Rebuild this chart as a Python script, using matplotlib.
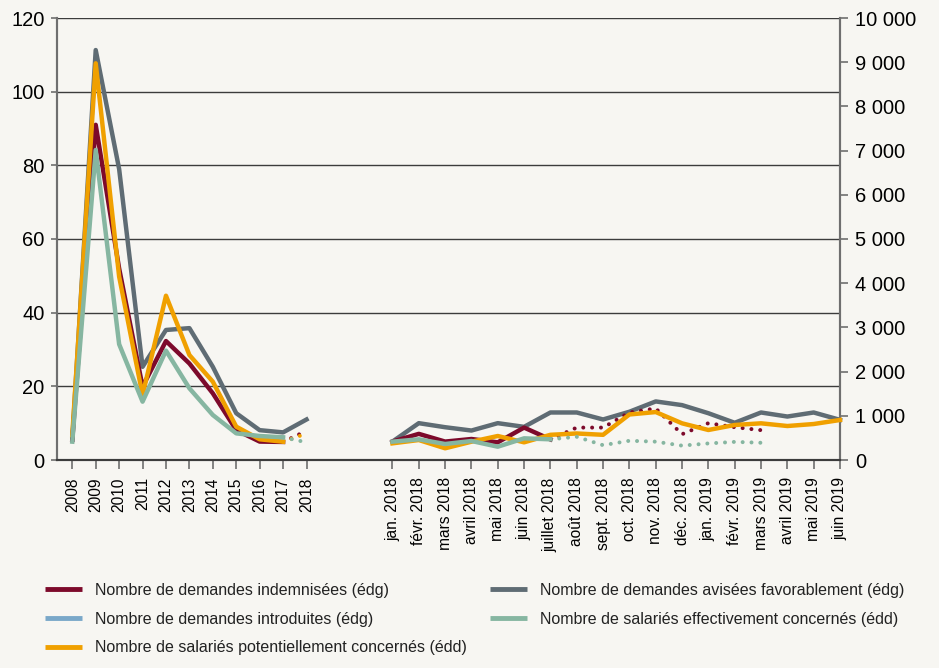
import numpy as np
import matplotlib
matplotlib.use("Agg")
import matplotlib.pyplot as plt
from matplotlib import font_manager
from matplotlib.lines import Line2D

# ---------------- data ----------------
years = ['2008', '2009', '2010', '2011', '2012', '2013', '2014', '2015', '2016', '2017', '2018']
months = ['jan. 2018', 'févr. 2018', 'mars 2018', 'avril 2018', 'mai 2018', 'juin 2018',
          'juillet 2018', 'août 2018', 'sept. 2018', 'oct. 2018', 'nov. 2018', 'déc. 2018',
          'jan. 2019', 'févr. 2019', 'mars 2019', 'avril 2019', 'mai 2019', 'juin 2019']

# yearly series (left axis: édg)
indemn_y = [5.5, 91, 52, 19.9, 32.3, 26.2, 18.1, 8.1, 5.0, 4.9, 7.9]
avisees_y = [5.5, 111.3, 79, 25.3, 35.3, 35.8, 25.3, 12.7, 8.1, 7.5, 11.0]
introd_y = [np.nan] * 11
# yearly series (right axis: édd)
potent_y = [560, 8975, 4150, 1470, 3717, 2375, 1772, 754, 468, 414, 600]
effect_y = [415, 7015, 2620, 1320, 2474, 1622, 1018, 603, 543, 513, 400]

# monthly series (left axis: édg)
indemn_m = [5.0, 7.1, 5.0, 5.7, 4.8, 8.8, 5.6, 8.8, 8.8, 12.9, 14.0, 7.0, 10.0, 8.9, 8.1,
            np.nan, np.nan, np.nan]
avisees_m = [5.0, 10.0, 8.9, 8.0, 10.0, 9.0, 12.9, 12.9, 11.0, 13.1, 15.9, 14.9, 12.7, 10.1,
             12.9, 11.8, 12.9, 10.9]
introd_m = [np.nan] * 18
# monthly series (right axis: édd)
potent_m = [377, 452, 265, 414, 543, 400, 570, 600, 570, 1030, 1085, 830, 679, 792, 830,
            769, 814, 905]
effect_m = [415, 468, 362, 430, 301, 490, 468, 525, 335, 435, 415, 325, 375, 410, 390,
            np.nan, np.nan, np.nan]

# index of last "solid" (definitive) point
last_def_y = 9      # 2017
last_def_m = 6      # juillet 2018

labels = ['Nombre de demandes indemnisées (édg)',
          'Nombre de demandes avisées favorablement (édg)',
          'Nombre de demandes introduites (édg)',
          'Nombre de salariés effectivement concernés (édd)',
          'Nombre de salariés potentiellement concernés (édd)']

# ---------------- style ----------------
bg = '#f7f6f2'
c_red = '#7d0a2b'
c_gray = '#5f6c74'
c_blue = '#7aa8c9'
c_green = '#86b6a1'
c_orange = '#f0a000'
c_axis = '#6f6f6f'
c_grid = '#3c3c3c'

avail = {f.name for f in font_manager.fontManager.ttflist}
fam = ['Liberation Sans Narrow'] if 'Liberation Sans Narrow' in avail else ['Liberation Sans']
plt.rcParams['font.family'] = fam + ['DejaVu Sans']
plt.rcParams['text.color'] = '#222222'

lw = 3.2
dot_style = (0, (0.01, 2.2))

# x positions (categorical, two blocks with different spacing)
year_pos = np.arange(len(years)) * 1.0
month_start, month_step = 13.67, 1.124
month_pos = month_start + np.arange(len(months)) * month_step

fig = plt.figure(figsize=(9.39, 6.68), dpi=100, facecolor=bg)
ax = fig.add_axes([57 / 939, 1 - 460 / 668, 783 / 939, 442 / 668])
ax.set_facecolor(bg)
ax.set_xlim(-0.653, month_pos[-1])
ax.set_ylim(0, 120)
ax2 = ax.twinx()
ax2.set_ylim(0, 10000)

# grid
ax.set_yticks(range(0, 121, 20))
ax.yaxis.grid(True, color=c_grid, lw=1.0)
ax.set_axisbelow(True)

def seg(a, i0, i1):
    return np.asarray(a[i0:i1 + 1], dtype=float)

yp, mp = year_pos, month_pos
ld, lm = last_def_y, last_def_m

# left-axis series
ax.plot(yp, avisees_y, color=c_gray, lw=lw, zorder=2)
ax.plot(mp, avisees_m, color=c_gray, lw=lw, zorder=2, clip_on=False)
ax.plot(yp, introd_y, color=c_blue, lw=lw, zorder=2)
ax.plot(mp, introd_m, color=c_blue, lw=lw, zorder=2)
ax.plot(yp[:ld + 1], seg(indemn_y, 0, ld), color=c_red, lw=lw, zorder=3)
ax.plot(yp[ld:], seg(indemn_y, ld, len(years) - 1), color=c_red, lw=lw * 0.9,
        ls=dot_style, dash_capstyle='round', zorder=3)
ax.plot(mp[:lm + 1], seg(indemn_m, 0, lm), color=c_red, lw=lw, zorder=3)
ax.plot(mp[lm:], seg(indemn_m, lm, len(months) - 1), color=c_red, lw=lw * 0.9,
        ls=dot_style, dash_capstyle='round', zorder=3)

# right-axis series
ax2.plot(yp[:ld + 1], seg(potent_y, 0, ld), color=c_orange, lw=lw, zorder=3)
ax2.plot(yp[ld:], seg(potent_y, ld, len(years) - 1), color=c_orange, lw=lw * 0.9,
         ls=dot_style, dash_capstyle='round', zorder=3)
ax2.plot(mp, potent_m, color=c_orange, lw=lw, zorder=3, clip_on=False)
ax2.plot(yp[:ld + 1], seg(effect_y, 0, ld), color=c_green, lw=lw, zorder=4)
ax2.plot(yp[ld:], seg(effect_y, ld, len(years) - 1), color=c_green, lw=lw * 0.9,
         ls=dot_style, dash_capstyle='round', zorder=4)
ax2.plot(mp[:lm + 1], seg(effect_m, 0, lm), color=c_green, lw=lw, zorder=4)
ax2.plot(mp[lm:], seg(effect_m, lm, len(months) - 1), color=c_green, lw=lw * 0.9,
         ls=dot_style, dash_capstyle='round', zorder=4)

# ticks
ax.set_xticks(np.concatenate([year_pos, month_pos]))
ax.set_xticklabels(years + months, rotation=90, fontsize=11.2)
ax.tick_params(axis='x', direction='out', length=6.5, width=1.2, color=c_axis, pad=6)
ax.tick_params(axis='y', direction='out', length=4, width=1.2, color=c_axis, pad=5,
               labelsize=14.5)
ax2.set_yticks(range(0, 10001, 1000))
ax2.set_yticklabels([f"{v:,}".replace(",", " ") for v in range(0, 10001, 1000)])
ax2.tick_params(axis='y', direction='out', length=6, width=1.2, color=c_axis, pad=5,
                labelsize=14.5)

for a in (ax, ax2):
    a.spines['top'].set_visible(False)
    a.spines['left'].set_color(c_axis)
    a.spines['right'].set_color(c_axis)
    a.spines['bottom'].set_color(c_grid)
    for s in ('left', 'right', 'bottom'):
        a.spines[s].set_linewidth(1.5)

# legend
def h(c):
    return Line2D([], [], color=c, lw=3.5, solid_capstyle='butt')

leg_kw = dict(frameon=False, fontsize=11.5, handlelength=2.3, handletextpad=0.85,
              labelspacing=0.85, borderpad=0, borderaxespad=0, loc='upper left')
fig.legend([h(c_red), h(c_blue), h(c_orange)], [labels[0], labels[2], labels[4]],
           bbox_to_anchor=(45 / 939, 1 - 583 / 668), **leg_kw)
fig.legend([h(c_gray), h(c_green)], [labels[1], labels[3]],
           bbox_to_anchor=(490 / 939, 1 - 583 / 668), **leg_kw)

fig.savefig('out.png', dpi=100, facecolor=bg)
